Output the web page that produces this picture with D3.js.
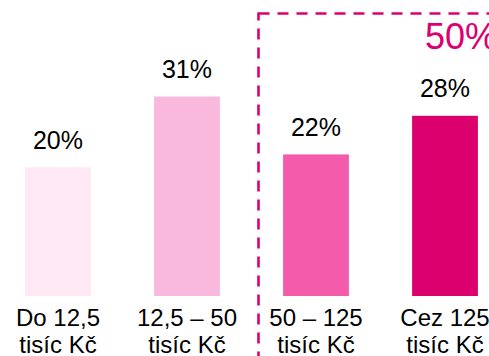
<!DOCTYPE html>
<html>
<head>
<meta charset="utf-8">
<script src="https://cdn.jsdelivr.net/npm/d3@7"></script>
<style>
  html, body { margin: 0; padding: 0; background: #fff; }
  svg { display: block; font-family: "Liberation Sans", Arial, sans-serif; }
</style>
</head>
<body>
<svg id="chart" width="489" height="356"></svg>
<script>
const categories = ["Do 12,5\ntisíc Kč", "12,5 – 50\ntisíc Kč", "50 – 125\ntisíc Kč", "Cez 125\ntisíc Kč"];
const values = [20, 31, 22, 28];
const valueLabels = ["20%", "31%", "22%", "28%"];
const colors = ["#FDE8F4", "#F9B9DC", "#F55BAB", "#DC006E"];
const highlightLabel = "50%";

const W = 489, H = 356;
const baseline = 296;
const svg = d3.select("#chart");

const x = d3.scaleBand().domain(categories).range([-6.5, 509.5]).paddingInner(0.49).paddingOuter(0.245);
const y = d3.scaleLinear().domain([0, 31]).range([baseline, baseline - 199.5]);

// dashed highlight box
svg.append("rect")
  .attr("x", 258.5).attr("y", 13.5)
  .attr("width", 260).attr("height", 380)
  .attr("fill", "none")
  .attr("stroke", "#DC006E")
  .attr("stroke-width", 2.6)
  .attr("stroke-dasharray", "11 8");

svg.append("text")
  .attr("x", 425).attr("y", 49)
  .attr("fill", "#DC006E")
  .attr("font-size", 36)
  .text(highlightLabel);

svg.selectAll("rect.bar").data(values).join("rect")
  .attr("class", "bar")
  .attr("x", (d, i) => x(categories[i]))
  .attr("width", x.bandwidth())
  .attr("y", d => y(d))
  .attr("height", d => baseline - y(d))
  .attr("fill", (d, i) => colors[i]);

svg.selectAll("text.val").data(values).join("text")
  .attr("class", "val")
  .attr("x", (d, i) => x(categories[i]) + x.bandwidth() / 2)
  .attr("y", d => y(d) - 18.5)
  .attr("text-anchor", "middle")
  .attr("font-size", 25)
  .attr("fill", "#000")
  .text((d, i) => valueLabels[i]);

const cat = svg.selectAll("text.cat").data(categories).join("text")
  .attr("class", "cat")
  .attr("text-anchor", "middle")
  .attr("font-size", 24)
  .attr("fill", "#000");
cat.each(function(d) {
  const t = d3.select(this);
  const cx = x(d) + x.bandwidth() / 2;
  d.split("\n").forEach((line, j) => {
    t.append("tspan").attr("x", cx).attr("y", 326 + j * 27).text(line);
  });
});
</script>
</body>
</html>
